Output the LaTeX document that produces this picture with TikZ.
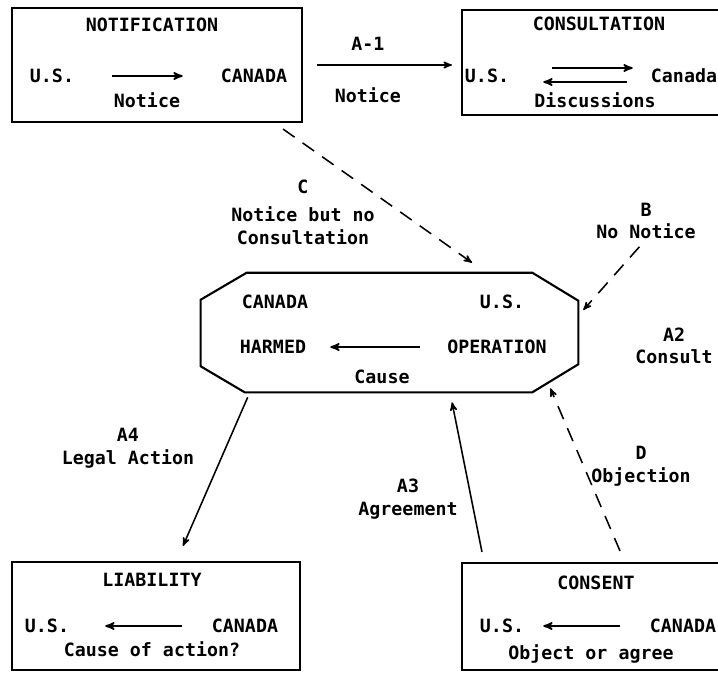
\documentclass[tikz,border=0pt]{standalone}
\usepackage{fontspec}
\setmainfont{DejaVu Sans Mono}
\usepackage{tikz}
\usetikzlibrary{arrows,positioning,calc}

\newcommand{\typed}{\fontsize{13}{16}\selectfont\bfseries}

\begin{document}
\begin{tikzpicture}[x=0.025cm, y=-0.025cm, >=stealth',
    every node/.style={font=\typed, inner sep=0pt},
    panel/.style={draw, line width=1.5pt},
    flow/.style={->, line width=1.3pt},
    link/.style={->, line width=1.1pt},
    dlink/.style={->, line width=1.1pt, dash pattern=on 10pt off 7pt}]
    \useasboundingbox (0,0) rectangle (718,673);
    \clip (0,0) rectangle (718,673);

    % Notification
    \node[panel, minimum width=7.25cm, minimum height=2.85cm] (notif) at (157,65) {};
    \node (ntitle) at (152,25) {NOTIFICATION};
    \node (nus) at (52,76) {U.S.};
    \node (nca) at (254,76) {CANADA};
    \node (ntxt) at (147,100) {Notice};
    \draw[flow, shorten <=0.95cm, shorten >=0.95cm] (nus) -- (nca);

    % Consultation
    \node[panel, minimum width=6.75cm, minimum height=2.625cm] (consult) at (597,62.5) {};
    \node (ctitle) at (599,24) {CONSULTATION};
    \node (cus) at (487,76) {U.S.};
    \node (cca) at (684,76) {Canada};
    \node (ctxt) at (595,100) {Discussions};
    \draw[flow, shorten <=1.075cm, shorten >=0.45cm] ([yshift=0.2cm]cus.east) -- ([yshift=0.2cm]cca.west);
    \draw[flow, shorten <=0.6cm, shorten >=0.85cm] ([yshift=-0.15cm]cca.west) -- ([yshift=-0.15cm]cus.east);

    % Harm (octagon)
    \node[minimum width=9.425cm, minimum height=2.975cm] (harm) at (389.5,332.5) {};
    \draw[line width=1.5pt] ([xshift=1.15cm]harm.north west) -- ([xshift=-1.15cm]harm.north east)
        -- ([yshift=-0.7cm]harm.north east) -- ([yshift=0.7cm]harm.south east)
        -- ([xshift=-1.15cm]harm.south east) -- ([xshift=1.1cm]harm.south west)
        -- ([yshift=0.65cm]harm.south west) -- ([yshift=-0.675cm]harm.north west) -- cycle;
    \node (hca) at (275,302) {CANADA};
    \node (hus) at (502,302) {U.S.};
    \node (hharm) at (273,347) {HARMED};
    \node (hop) at (497,347) {OPERATION};
    \node (htxt) at (382,377) {Cause};
    \draw[flow, shorten <=0.69cm, shorten >=0.6cm] (hop) -- (hharm);

    % Liability
    \node[panel, minimum width=7.2cm, minimum height=2.7cm] (liab) at (156,616) {};
    \node (ltitle) at (152,580) {LIABILITY};
    \node (lus) at (47,626) {U.S.};
    \node (lca) at (245,626) {CANADA};
    \node (ltxt) at (152,649) {Cause of action?};
    \draw[flow, shorten <=0.75cm, shorten >=0.9cm] (lca) -- (lus);

    % Consent
    \node[panel, minimum width=6.75cm, minimum height=2.675cm] (consent) at (597,616.5) {};
    \node (stitle) at (596,583) {CONSENT};
    \node (sus) at (502,626) {U.S.};
    \node (sca) at (683,626) {CANADA};
    \node (stxt) at (591,654) {Object or agree};
    \draw[flow, shorten <=0.75cm, shorten >=0.475cm] (sca) -- (sus);

    % Paths between stages
    \draw[link, shorten <=0.35cm, shorten >=0.225cm] (notif.east) -- (notif.east -| consult.west)
        node[pos=0.41, above=0.35cm] (a1) {A-1}
        node[pos=0.41, below=0.55cm] (a1txt) {Notice};
    \draw[dlink] ([xshift=-0.5cm, yshift=-0.15cm]notif.south east) -- ([xshift=2.0625cm, yshift=0.25cm]harm.north);
    \node[align=center] (clab) at (303,212) {C\\[0.15cm]Notice but no\\Consultation};

    \node[align=center] (blab) at (646,221) {B\\No Notice};
    \draw[dlink, shorten <=0.25cm] (blab.south) -- ([xshift=0.125cm, yshift=0.5625cm]harm.east);

    \node[align=center] (a2lab) at (674,346) {A2\\Consult};

    \draw[dlink] ([xshift=0.575cm, yshift=0.275cm]consent.north) -- ([xshift=-0.7cm, yshift=0.1cm]harm.south east);
    \node[align=center] (dlab) at (641,466) {D\\Objection};

    \draw[link] ([xshift=-2.875cm, yshift=0.25cm]consent.north) -- ([xshift=1.5625cm, yshift=-0.25cm]harm.south);
    \node[align=center] (a3lab) at (408,499) {A3\\Agreement};

    \draw[link] ([xshift=1.175cm, yshift=-0.125cm]harm.south west) -- ([xshift=0.675cm, yshift=0.375cm]liab.north);
    \node[align=center] (a4lab) at (128,448) {A4\\Legal Action};
\end{tikzpicture}
\end{document}
